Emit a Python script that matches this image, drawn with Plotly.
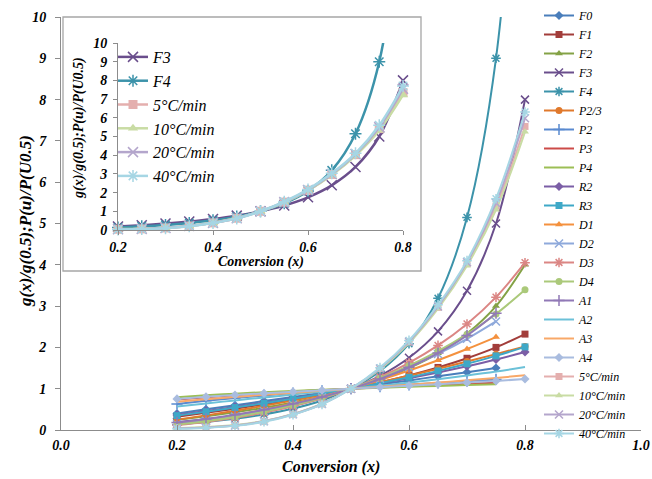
import plotly.graph_objects as go

# ---------------- data ----------------
conversion = [0.2, 0.25, 0.3, 0.35, 0.4, 0.45, 0.5, 0.55, 0.6, 0.65, 0.7, 0.75, 0.8]

F0 = [0.40, 0.50, 0.60, 0.70, 0.80, 0.90, 1.00, 1.10, 1.20, 1.30, 1.40, 1.50]
F1 = [0.322, 0.415, 0.515, 0.621, 0.737, 0.863, 1.00, 1.152, 1.322, 1.515, 1.737, 2.00, 2.322]
F2 = [0.25, 0.333, 0.429, 0.538, 0.667, 0.818, 1.00, 1.222, 1.50, 1.857, 2.333, 3.00, 4.00]
F3 = [0.188, 0.259, 0.347, 0.456, 0.593, 0.769, 1.00, 1.313, 1.75, 2.388, 3.370, 5.00, 8.00]
F4 = [0.136, 0.196, 0.274, 0.377, 0.519, 0.716, 1.00, 1.425, 2.089, 3.189, 5.148, 9.00, 17.71]
P2_3 = [0.253, 0.354, 0.465, 0.586, 0.716, 0.854, 1.00, 1.154, 1.315, 1.482, 1.657, 1.837, 2.024]
P2 = [0.632, 0.707, 0.775, 0.837, 0.894, 0.949, 1.00, 1.049, 1.095, 1.140, 1.183, 1.225]
P3 = [0.737, 0.794, 0.843, 0.888, 0.928, 0.965, 1.00, 1.032, 1.063, 1.091, 1.119, 1.145]
P4 = [0.795, 0.841, 0.880, 0.915, 0.946, 0.974, 1.00, 1.024, 1.047, 1.068, 1.088, 1.107]
R2 = [0.361, 0.458, 0.558, 0.662, 0.770, 0.882, 1.00, 1.124, 1.255, 1.394, 1.544, 1.707, 1.887]
R3 = [0.348, 0.443, 0.543, 0.649, 0.759, 0.876, 1.00, 1.133, 1.276, 1.431, 1.603, 1.794, 2.013]
D1 = [0.16, 0.25, 0.36, 0.49, 0.64, 0.81, 1.00, 1.21, 1.44, 1.69, 1.96, 2.25]
D2 = [0.140, 0.223, 0.328, 0.456, 0.609, 0.790, 1.00, 1.243, 1.522, 1.842, 2.208, 2.629]
D3 = [0.121, 0.196, 0.295, 0.421, 0.576, 0.767, 1.00, 1.283, 1.628, 2.049, 2.568, 3.217, 4.051]
D4 = [0.134, 0.214, 0.317, 0.444, 0.598, 0.782, 1.00, 1.256, 1.556, 1.908, 2.321, 2.810, 3.396]
A1 = [0.183, 0.267, 0.369, 0.490, 0.633, 0.801, 1.00, 1.236, 1.520, 1.864, 2.289, 2.828]
A2 = [0.567, 0.644, 0.717, 0.788, 0.859, 0.929, 1.00, 1.073, 1.150, 1.231, 1.318, 1.414, 1.524]
A3 = [0.685, 0.746, 0.801, 0.853, 0.903, 0.952, 1.00, 1.048, 1.098, 1.148, 1.202, 1.260, 1.324]
A4 = [0.753, 0.803, 0.847, 0.888, 0.927, 0.964, 1.00, 1.036, 1.072, 1.109, 1.148, 1.189, 1.234]
rate5 = [0.04, 0.06, 0.11, 0.21, 0.38, 0.63, 1.00, 1.49, 2.13, 2.97, 4.03, 5.42, 7.35]
rate10 = [0.05, 0.07, 0.12, 0.22, 0.39, 0.64, 1.00, 1.47, 2.11, 2.94, 3.98, 5.33, 7.22]
rate20 = [0.04, 0.06, 0.11, 0.21, 0.38, 0.63, 1.00, 1.49, 2.14, 2.99, 4.06, 5.50, 7.55]
rate40 = [0.03, 0.05, 0.10, 0.20, 0.37, 0.62, 1.00, 1.51, 2.17, 3.03, 4.10, 5.60, 7.70]

names = ["F0", "F1", "F2", "F3", "F4", "P2/3", "P2", "P3", "P4", "R2", "R3",
         "D1", "D2", "D3", "D4", "A1", "A2", "A3", "A4",
         "5°C/min", "10°C/min", "20°C/min", "40°C/min"]
series = [F0, F1, F2, F3, F4, P2_3, P2, P3, P4, R2, R3,
          D1, D2, D3, D4, A1, A2, A3, A4, rate5, rate10, rate20, rate40]

x_ticks_main = [0.0, 0.2, 0.4, 0.6, 0.8, 1.0]
y_ticks = list(range(0, 11))
x_ticks_inset = [0.2, 0.4, 0.6, 0.8]

# ---------------- styles ----------------
colors = ["#4A7EBB", "#A23D3A", "#84A246", "#6A4E8C", "#3C93AA", "#E0792C",
          "#5A8AD0", "#CC4B48", "#9CBE55", "#7B5EA6", "#3EA8C7", "#F4913E",
          "#8EA9DB", "#DB8684", "#ABC97A", "#9179B6", "#6CC1D8", "#F8A868",
          "#A9BCDF", "#E4AFAE", "#C9DCA4", "#B4A6CC", "#A6D6E4"]
symbols = ["diamond", "square", "triangle-up", "x-thin-open", "asterisk-open", "circle",
           "cross-thin-open", None, None, "diamond", "square", "triangle-up",
           "x-thin-open", "asterisk-open", "circle", "cross-thin-open", None, None,
           "diamond", "square", "triangle-up", "x-thin-open", "asterisk-open"]

FONT = "Liberation Serif"


def fx(px):
    return (px - 61) / 580.0


def fy(py):
    return (430 - py) / 413.0


fig = go.Figure()

# main chart
for name, vals, col, sym in zip(names, series, colors, symbols):
    xs = conversion[:len(vals)]
    kw = dict(x=xs, y=vals, name=name, legend="legend",
              line=dict(color=col, width=2, shape="spline"))
    if sym is None:
        kw["mode"] = "lines"
    else:
        kw["mode"] = "lines+markers"
        if "open" in sym:
            kw["marker"] = dict(symbol=sym, size=8, color=col, line=dict(color=col, width=1.5))
        else:
            kw["marker"] = dict(symbol=sym, size=7, color=col)
    fig.add_trace(go.Scatter(**kw))

# inset chart
inset_idx = [3, 4, 19, 20, 21, 22]
for i in inset_idx:
    col, sym, vals = colors[i], symbols[i], series[i]
    if "open" in sym:
        mk = dict(symbol=sym, size=10, color=col, line=dict(color=col, width=1.5))
    else:
        mk = dict(symbol=sym, size=9, color=col)
    fig.add_trace(go.Scatter(x=conversion[:len(vals)], y=vals, name=names[i],
                             mode="lines+markers", xaxis="x2", yaxis="y2",
                             legend="legend2", cliponaxis=False,
                             line=dict(color=col, width=2.5, shape="spline"),
                             marker=mk))

tickfont_main = dict(family=FONT, size=14, color="#000", weight="bold", style="italic")
tickfont_inset = dict(family=FONT, size=14, color="#000", weight="bold", style="italic")
axcol = "#8c8c8c"

fig.update_layout(
    width=652, height=479,
    margin=dict(l=61, r=11, t=17, b=49, autoexpand=False),
    paper_bgcolor="white", plot_bgcolor="white",
    xaxis=dict(domain=[0, 1], range=[0, 1], tickvals=x_ticks_main, tickformat=".1f",
               ticks="inside", ticklen=5, tickcolor=axcol, showline=True, linecolor=axcol,
               showgrid=False, zeroline=False, tickfont=tickfont_main, ticklabelstandoff=2,
               automargin=False),
    yaxis=dict(domain=[0, 1], range=[0, 10], tickvals=y_ticks, ticks="outside", ticklen=5,
               tickcolor=axcol, showline=True, linecolor=axcol, showgrid=False,
               zeroline=False, tickfont=tickfont_main, ticklabelstandoff=6,
               automargin=False),
    xaxis2=dict(domain=[fx(118), fx(403)], anchor="y2", range=[0.2, 0.8],
                tickvals=x_ticks_inset, tickformat=".1f", ticks="outside", ticklen=4,
                tickcolor=axcol, showline=True, linecolor=axcol, showgrid=False,
                zeroline=False, tickfont=tickfont_inset),
    yaxis2=dict(domain=[fy(230), fy(43)], anchor="x2", range=[0, 10], tickvals=y_ticks,
                ticks="outside", ticklen=4, tickcolor=axcol, showline=True, linecolor=axcol,
                showgrid=False, zeroline=False, tickfont=tickfont_inset, ticklabelstandoff=3),
    legend=dict(x=fx(539), y=fy(1), xanchor="left", yanchor="top",
                bgcolor="rgba(0,0,0,0)", borderwidth=0, tracegroupgap=0,
                font=dict(family=FONT, size=12, color="#000", style="italic")),
    legend2=dict(x=fx(113), y=fy(40), xanchor="left", yanchor="top",
                 bgcolor="rgba(0,0,0,0)", borderwidth=0,
                 font=dict(family=FONT, size=16, color="#000", style="italic")),
    shapes=[dict(type="rect", xref="paper", yref="paper", x0=fx(63), x1=fx(421),
                 y0=fy(271), y1=fy(17), fillcolor="white",
                 line=dict(color="#a6a6a6", width=1.3), layer="below")],
    annotations=[
        dict(text="g(x)/g(0.5);P(u)/P(U0.5)", xref="paper", yref="paper",
             x=fx(25), y=fy(221), textangle=-90, showarrow=False,
             xanchor="center", yanchor="middle",
             font=dict(family=FONT, size=17, color="#000", weight="bold", style="italic")),
        dict(text="Conversion (x)", xref="paper", yref="paper",
             x=fx(331), y=fy(467), showarrow=False, xanchor="center", yanchor="middle",
             font=dict(family=FONT, size=16, color="#000", weight="bold", style="italic")),
        dict(text="g(x)/g(0.5);P(u)/P(U0.5)", xref="paper", yref="paper",
             x=fx(79), y=fy(128), textangle=-90, showarrow=False,
             xanchor="center", yanchor="middle",
             font=dict(family=FONT, size=14, color="#000", weight="bold", style="italic")),
        dict(text="Conversion (x)", xref="paper", yref="paper",
             x=fx(261), y=fy(262), showarrow=False, xanchor="center", yanchor="middle",
             font=dict(family=FONT, size=14, color="#000", weight="bold", style="italic")),
    ],
)

try:
    fig.update_layout(legend_maxheight=479)
except Exception:
    pass

fig.write_html("out.html", config={"displayModeBar": False},
               post_script="document.body.style.margin='0';")
